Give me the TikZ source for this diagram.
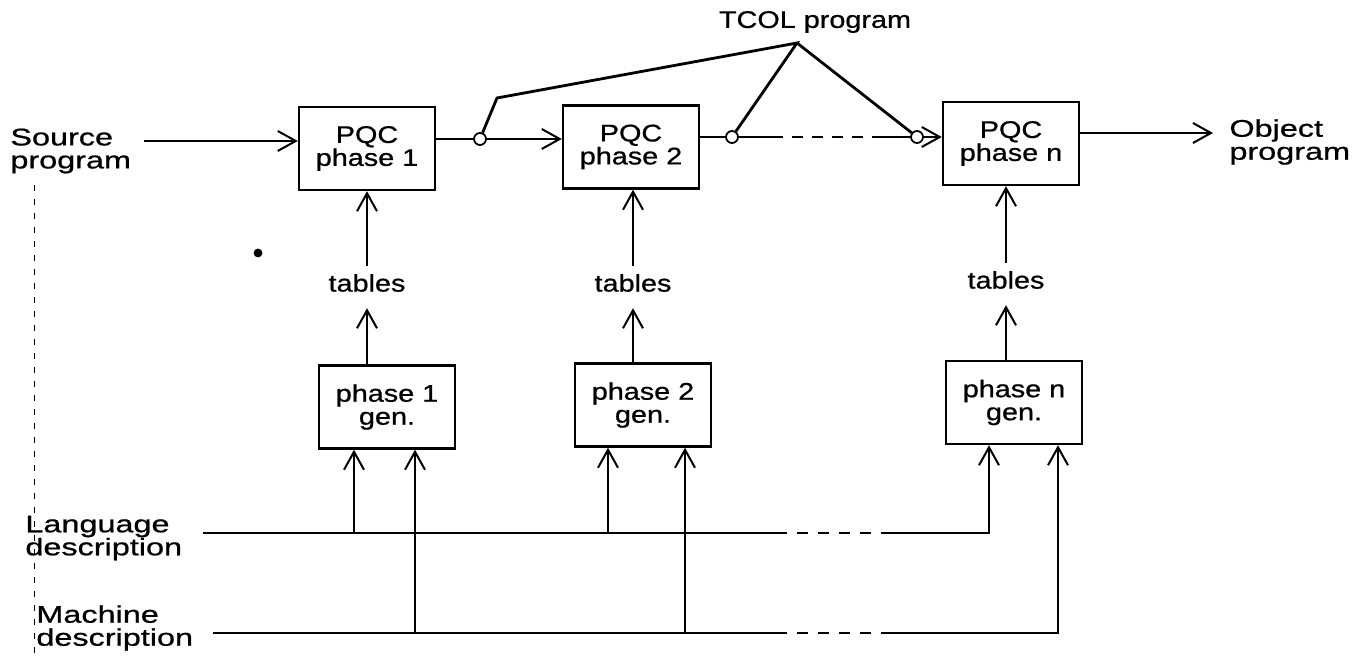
\documentclass[tikz,border=0pt]{standalone}
\usepackage{fontspec}
\setmainfont[FakeStretch=1.2,FakeBold=0.8]{Liberation Sans}
\newfontfamily\widefont[FakeStretch=1.35,FakeBold=0.8]{Liberation Sans}
\usetikzlibrary{arrows.meta}
\begin{document}
\begin{tikzpicture}[x=0.5pt,y=-0.5pt,
  txt/.style={font=\fontsize{12}{11.5}\selectfont},
  box/.style={txt,draw,line width=1.2pt,minimum width=68pt,minimum height=41.5pt,
    inner sep=0pt,align=center},
  lbl/.style={txt,inner sep=0pt,align=left},
  side/.style={lbl,font=\widefont\fontsize{12}{11.5}\selectfont},
  wire/.style={line width=1pt},
  arr/.style={wire,-{Straight Barb[length=9pt,width=10pt]}},
  tcolwire/.style={line width=1.4pt,line join=miter},
  junc/.style={circle,draw,line width=0.9pt,fill=white,minimum size=6pt,inner sep=0pt},
  gaptop/.style={wire,dash pattern=on 5.5pt off 4.5pt,dash phase=5.5pt},
  gapbot/.style={wire,dash pattern=on 5.5pt off 5pt,dash phase=5.5pt}]
\useasboundingbox (0,0) rectangle (1368,656);

% compiler phases
\node[box] (pqc1) at (367,148.5) {PQC\\phase 1};
\node[box] (pqc2) at (631,147) {PQC\\phase 2};
\node[box] (pqcn) at (1011,143.5) {PQC\\phase n};

% phase generators
\node[box] (gen1) at (387,407) {phase 1\\gen.};
\node[box] (gen2) at (643,405) {phase 2\\gen.};
\node[box] (genn) at (1014,402.5) {phase n\\gen.};

% tables
\node[lbl] (tab1) at (367,283) {tables};
\node[lbl] (tab2) at (633,283) {tables};
\node[lbl] (tabn) at (1006,280) {tables};

% outer labels
\node[side,anchor=west] (src) at (10,151) {Source\\program};
\node[side,anchor=west] (obj) at (1229,142) {Object\\program};
\node[lbl] (tcol) at (815,22) {TCOL program};
\node[side,anchor=west] (lang) at (25,538) {Language\\description};
\node[side,anchor=west] (mach) at (36,628) {Machine\\description};

% main pipeline
\coordinate (srcstart) at (144,141);
\draw[arr] (srcstart) -- (pqc1.west |- srcstart);
\node[junc] (j1) at (480,139) {};
\node[junc] (j2) at (732,137) {};
\node[junc] (j3) at (917,137) {};
\draw[wire] (pqc1.east |- j1) -- (j1);
\draw[arr] (j1) -- (pqc2.west |- j1);
\draw[wire] (pqc2.east |- j2) -- (j2);
\coordinate (ta) at (783,137);
\coordinate (tb) at (875,137);
\draw[wire] (j2) -- (ta);
\draw[gaptop] (ta) -- (tb);
\draw[wire] (tb) -- (j3);
\draw[arr] (j3) -- (pqcn.west |- j3);
\coordinate (objtip) at (1213,133);
\draw[arr] (pqcn.east |- objtip) -- (objtip);

% TCOL program taps
\coordinate (apex) at (797,43);
\coordinate (bend) at (497,98);
\draw[tcolwire] (j1) -- (bend) -- (apex) -- (j2);
\draw[tcolwire] (apex) -- (j3);

% tables feed the phases
\draw[arr,shorten <=4pt] (tab1.north) -- (pqc1.south -| tab1.north);
\draw[arr,shorten <=4pt] (tab2.north) -- (pqc2.south -| tab2.north);
\draw[arr,shorten <=4pt] (tabn.north) -- (pqcn.south -| tabn.north);
\draw[arr,shorten >=8pt] (gen1.north -| tab1.south) -- (tab1.south);
\draw[arr,shorten >=8pt] (gen2.north -| tab2.south) -- (tab2.south);
\draw[arr,shorten >=8pt] (genn.north -| tabn.south) -- (tabn.south);

% language description bus
\coordinate (l0) at (203,533);
\coordinate (la) at (787,533);
\coordinate (lb) at (886,533);
\coordinate (l1) at (354,533);
\coordinate (l2) at (608,533);
\coordinate (ln) at (989,533);
\draw[wire] (l0) -- (la);
\draw[gapbot] (la) -- (lb);
\draw[arr] (lb) -- (ln) -- (ln |- genn.south);
\draw[arr] (l1) -- (l1 |- gen1.south);
\draw[arr] (l2) -- (l2 |- gen2.south);

% machine description bus
\coordinate (m0) at (213,633);
\coordinate (ma) at (787,633);
\coordinate (mb) at (886,633);
\coordinate (m1) at (415,633);
\coordinate (m2) at (685,633);
\coordinate (mn) at (1058,633);
\draw[wire] (m0) -- (ma);
\draw[gapbot] (ma) -- (mb);
\draw[arr] (mb) -- (mn) -- (mn |- genn.south);
\draw[arr] (m1) -- (m1 |- gen1.south);
\draw[arr] (m2) -- (m2 |- gen2.south);

% margin rule and ink spot
\coordinate (rt) at (34,185);
\coordinate (rb) at (34,656);
\draw[line width=0.3pt,dash pattern=on 3pt off 4pt] (rt) -- (rb);
\fill (258,253) circle[radius=2.2pt];
\end{tikzpicture}
\end{document}
